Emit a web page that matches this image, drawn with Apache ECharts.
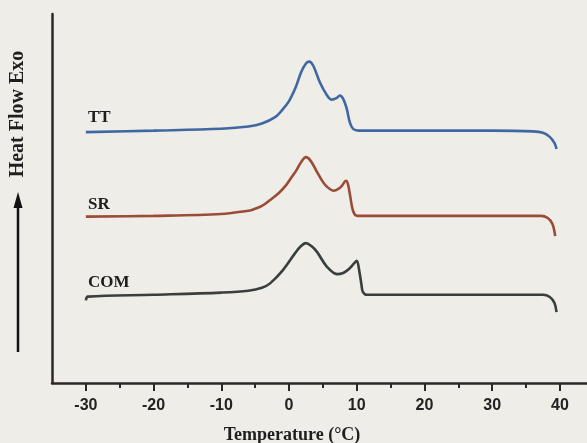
<!DOCTYPE html>
<html>
<head>
<meta charset="utf-8">
<script src="https://cdn.jsdelivr.net/npm/echarts@6/dist/echarts.min.js"></script>
<style>
html,body{margin:0;padding:0;background:#eeede7;}
#c{width:587px;height:443px;}
</style>
</head>
<body>
<div id="c"></div>
<script>
// Temperature (°C) tick labels
var majorTicks = [-30, -20, -10, 0, 10, 20, 30, 40];
var minorTicks = [-25, -15, -5, 5, 15, 25, 35];

// DSC curves: [temperature °C, heat flow (arbitrary units, offset per sample)]
var seriesNames = ['TT', 'SR', 'COM'];
var ttData = [
  [-30, 68.0], [-20, 68.4], [-10, 68.9], [-6, 69.5], [-4, 70.3], [-2, 72.1], [-1, 74.0],
  [0, 76.4], [1, 80.2], [1.8, 84.3], [2.5, 86.6], [3.0, 87.1], [3.6, 85.9], [4.6, 81.3],
  [5.6, 78.0], [6.3, 76.8], [7.0, 77.2], [7.5, 77.9], [8.0, 77.0], [8.5, 74.5],
  [9.0, 70.5], [9.5, 68.8], [10.3, 68.4], [20, 68.4], [30, 68.4], [36, 68.2],
  [37.5, 67.8], [38.5, 66.7], [39.2, 65.0], [39.5, 63.4]
];
var srData = [
  [-30, 45.1], [-20, 45.3], [-10, 45.8], [-6, 46.7], [-5.5, 46.9], [-4, 48.0], [-2.8, 49.6],
  [-1.5, 51.5], [-0.4, 53.7], [0.5, 56.1], [1.1, 57.7], [1.8, 59.9], [2.5, 61.2],
  [3.2, 60.2], [4.1, 57.3], [5.0, 54.5], [5.6, 53.2], [6.6, 52.1], [7.3, 52.6],
  [7.8, 53.4], [8.4, 54.8], [8.7, 53.9], [9.0, 51.0], [9.5, 46.4], [10.1, 45.3],
  [20, 45.3], [30, 45.3], [37.2, 45.3], [38.2, 44.7], [38.9, 43.1], [39.3, 39.8]
];
var comData = [
  [-30, 22.4], [-29.7, 23.4], [-20, 23.9], [-10, 24.5], [-6, 25.0], [-4, 25.8], [-2.8, 27.0],
  [-0.9, 30.6], [0.9, 35.2], [1.7, 37.0], [2.5, 37.9], [3.3, 37.1], [4.1, 35.6],
  [5.6, 31.5], [7.1, 29.5], [8.0, 29.8], [8.8, 30.8], [9.6, 32.4], [10.0, 33.1],
  [10.4, 30.1], [10.7, 26.6], [10.9, 24.7], [11.5, 23.9], [20, 23.9], [30, 23.9],
  [37.5, 23.9], [38.5, 23.3], [39.2, 21.7], [39.5, 19.2]
];
var lineColors = ['#3f67a2', '#9b4c38', '#383f3c'];

var chart = echarts.init(document.getElementById('c'), null, {renderer: 'canvas'});
var axisColor = '#2e2626';
var serif = 'Liberation Serif';
var option = {
  backgroundColor: '#eeede7',
  animation: false,
  grid: {left: 52, right: 0, top: 14, bottom: 60},
  xAxis: [{
    type: 'value', min: -35, max: 44,
    axisLine: {show: true, onZero: false, lineStyle: {color: axisColor, width: 2.5}},
    axisTick: {show: true, customValues: majorTicks, length: 8, lineStyle: {color: axisColor, width: 2}},
    axisLabel: {show: true, customValues: majorTicks, margin: 15, color: '#222',
      fontFamily: 'Liberation Sans', fontWeight: 'bold', fontSize: 16},
    splitLine: {show: false}
  }, {
    type: 'value', min: -35, max: 44, position: 'bottom',
    axisLine: {show: false, onZero: false},
    axisTick: {show: true, customValues: minorTicks, length: 5, lineStyle: {color: axisColor, width: 2}},
    axisLabel: {show: false},
    splitLine: {show: false}
  }],
  yAxis: {
    type: 'value', min: 0, max: 100,
    axisLine: {show: true, onZero: false, lineStyle: {color: axisColor, width: 2.5}},
    axisTick: {show: false}, axisLabel: {show: false}, splitLine: {show: false}
  },
  series: [ttData, srData, comData].map(function (d, i) {
    return {
      name: seriesNames[i], type: 'line', data: d, xAxisIndex: 0,
      showSymbol: false, smooth: 0.35,
      lineStyle: {color: lineColors[i], width: 2.6}
    };
  }),
  graphic: [
    {type: 'text', x: 88, y: 118, style: {text: 'TT', fontFamily: serif, fontWeight: 'bold', fontSize: 17, fill: '#1e1e1e', verticalAlign: 'middle'}},
    {type: 'text', x: 88, y: 205, style: {text: 'SR', fontFamily: serif, fontWeight: 'bold', fontSize: 17, fill: '#1e1e1e', verticalAlign: 'middle'}},
    {type: 'text', x: 88, y: 283, style: {text: 'COM', fontFamily: serif, fontWeight: 'bold', fontSize: 17, fill: '#1e1e1e', verticalAlign: 'middle'}},
    {type: 'text', x: 292, y: 435, style: {text: 'Temperature (°C)', fontFamily: serif, fontWeight: 'bold', fontSize: 18, fill: '#1e1e1e', align: 'center', verticalAlign: 'middle'}},
    {type: 'text', x: 18, y: 114, rotation: Math.PI / 2, style: {text: 'Heat Flow Exo', fontFamily: serif, fontWeight: 'bold', fontSize: 20, fill: '#1e1e1e', align: 'center', verticalAlign: 'middle'}},
    {type: 'line', shape: {x1: 18, y1: 205, x2: 18, y2: 352}, style: {stroke: '#111', lineWidth: 2.5}},
    {type: 'polygon', shape: {points: [[18, 192], [13.5, 208], [22.5, 208]]}, style: {fill: '#111'}}
  ]
};
chart.setOption(option);
</script>
</body>
</html>
